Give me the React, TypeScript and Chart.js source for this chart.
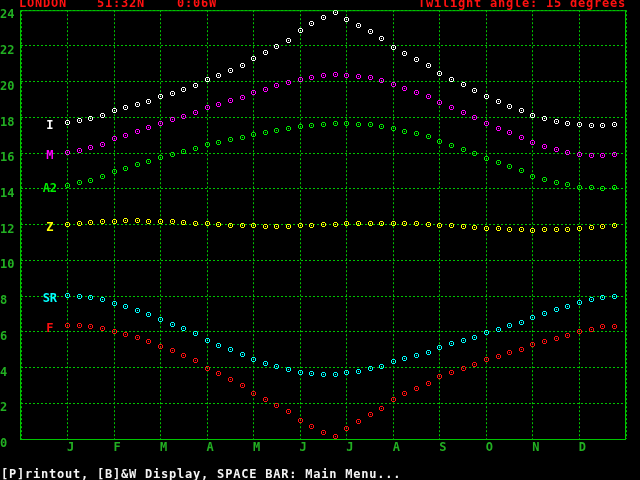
import React, { useEffect, useRef } from "react";
import { Chart, registerables } from "chart.js";

Chart.register(...registerables);

const MONTHS = ["J", "F", "M", "A", "M", "J", "J", "A", "S", "O", "N", "D"];

const SAMPLE_X = [
  1, 1.25, 1.5, 1.75, 2, 2.25, 2.5, 2.75, 3, 3.25, 3.5, 3.75,
  4, 4.25, 4.5, 4.75, 5, 5.25, 5.5, 5.75, 6, 6.25, 6.5, 6.75,
  7, 7.25, 7.5, 7.75, 8, 8.25, 8.5, 8.75, 9, 9.25, 9.5, 9.75,
  10, 10.25, 10.5, 10.75, 11, 11.25, 11.5, 11.75, 12, 12.25, 12.5, 12.75,
];

const ISHA = [
  17.72, 17.81, 17.94, 18.11, 18.39, 18.56, 18.72, 18.91, 19.17, 19.34, 19.56, 19.79,
  20.12, 20.35, 20.63, 20.91, 21.3, 21.63, 21.97, 22.3, 22.86, 23.26, 23.59, 23.87,
  23.48, 23.14, 22.81, 22.42, 21.91, 21.58, 21.24, 20.91, 20.46, 20.12, 19.84, 19.51,
  19.17, 18.89, 18.61, 18.39, 18.11, 17.94, 17.77, 17.66, 17.61, 17.55, 17.55, 17.61,
];
const MAGHRIB = [
  16.04, 16.15, 16.32, 16.49, 16.82, 16.99, 17.21, 17.44, 17.66, 17.89, 18.06, 18.28,
  18.56, 18.72, 18.95, 19.12, 19.4, 19.56, 19.79, 19.96, 20.12, 20.24, 20.35, 20.4,
  20.35, 20.29, 20.24, 20.07, 19.84, 19.62, 19.4, 19.17, 18.84, 18.56, 18.28, 18.0,
  17.66, 17.38, 17.16, 16.88, 16.6, 16.38, 16.21, 16.04, 15.93, 15.87, 15.87, 15.93,
];
const ASR2 = [
  14.19, 14.36, 14.47, 14.7, 14.98, 15.14, 15.37, 15.54, 15.76, 15.93, 16.1, 16.26,
  16.49, 16.6, 16.77, 16.88, 17.05, 17.16, 17.27, 17.38, 17.49, 17.55, 17.61, 17.66,
  17.66, 17.61, 17.61, 17.49, 17.38, 17.21, 17.1, 16.93, 16.65, 16.43, 16.21, 15.98,
  15.7, 15.48, 15.26, 15.03, 14.7, 14.53, 14.36, 14.25, 14.08, 14.08, 14.03, 14.08,
];
const ZUHR = [
  12.01, 12.07, 12.12, 12.18, 12.18, 12.24, 12.24, 12.18, 12.18, 12.18, 12.12, 12.07,
  12.07, 12.01, 11.96, 11.96, 11.96, 11.9, 11.9, 11.9, 11.96, 11.96, 12.01, 12.01,
  12.07, 12.07, 12.07, 12.07, 12.07, 12.07, 12.07, 12.01, 11.96, 11.96, 11.9, 11.85,
  11.79, 11.79, 11.73, 11.73, 11.68, 11.73, 11.73, 11.73, 11.79, 11.85, 11.9, 11.96,
];
const SUNRISE = [
  8.04, 7.98, 7.93, 7.82, 7.59, 7.42, 7.2, 6.98, 6.7, 6.42, 6.2, 5.91,
  5.52, 5.24, 5.02, 4.74, 4.46, 4.23, 4.07, 3.9, 3.73, 3.68, 3.62, 3.62,
  3.73, 3.79, 3.97, 4.07, 4.35, 4.53, 4.7, 4.85, 5.13, 5.35, 5.52, 5.69,
  5.97, 6.14, 6.36, 6.53, 6.81, 7.04, 7.26, 7.43, 7.66, 7.83, 7.94, 7.99,
];
const FAJR = [
  6.36, 6.36, 6.3, 6.19, 6.03, 5.86, 5.69, 5.47, 5.19, 4.96, 4.68, 4.4,
  3.96, 3.68, 3.34, 3.0, 2.56, 2.22, 1.89, 1.55, 1.05, 0.71, 0.37, 0.15,
  0.6, 0.99, 1.38, 1.72, 2.22, 2.56, 2.84, 3.13, 3.51, 3.73, 3.96, 4.18,
  4.46, 4.63, 4.85, 5.02, 5.3, 5.47, 5.63, 5.8, 6.03, 6.15, 6.27, 6.32,
];

const SERIES_NAMES = ["I", "M", "A2", "Z", "SR", "F"];
const SERIES_VALUES = [ISHA, MAGHRIB, ASR2, ZUHR, SUNRISE, FAJR];
const SERIES_COLORS = ["#ffffff", "#ff00ff", "#00ee00", "#ffff00", "#00ffff", "#ff1010"];

const FONT = '"DejaVu Sans Mono", monospace';
const GRID = "#00c400";
const LABEL_GREEN = "#22b022";

// 5x5 pixel ring with a centre dot
const MARKER_PATTERN = [".###.", "#...#", "#.#.#", "#...#", ".###."];

function makeMarker(color: string) {
  const c = document.createElement("canvas");
  c.width = 5;
  c.height = 5;
  const g = c.getContext("2d")!;
  g.fillStyle = color;
  MARKER_PATTERN.forEach((row, r) => {
    for (let col = 0; col < row.length; col++) {
      if (row[col] === "#") g.fillRect(col, r, 1, 1);
    }
  });
  return c;
}

const crispPlugin = {
  id: "crisp",
  beforeDraw(chart: any) {
    chart.ctx.imageSmoothingEnabled = false;
  },
};

const framePlugin = {
  id: "frame",
  beforeDatasetsDraw(chart: any) {
    const { ctx, chartArea } = chart;
    ctx.save();
    ctx.strokeStyle = GRID;
    ctx.lineWidth = 1;
    ctx.setLineDash([]);
    ctx.strokeRect(
      chartArea.left - 0.5,
      chartArea.top + 0.5,
      chartArea.right - chartArea.left,
      chartArea.bottom - chartArea.top
    );
    ctx.restore();
  },
};

const seriesLabelPlugin = {
  id: "seriesLabels",
  afterDatasetsDraw(chart: any) {
    const { ctx } = chart;
    const xs = chart.scales.x;
    const ys = chart.scales.y;
    ctx.save();
    ctx.font = `bold 12px ${FONT}`;
    ctx.textAlign = "center";
    ctx.textBaseline = "middle";
    chart.data.datasets.forEach((ds: any) => {
      ctx.fillStyle = ds.borderColor;
      ctx.fillText(ds.label, xs.getPixelForValue(0.62), ys.getPixelForValue(ds.data[0].y) + 3.5);
    });
    ctx.restore();
  },
};

export default function App() {
  const ref = useRef<HTMLCanvasElement | null>(null);

  useEffect(() => {
    if (!ref.current) return;
    const datasets = SERIES_NAMES.map((name, k) => ({
      label: name,
      data: SERIES_VALUES[k].map((v, i) => ({ x: SAMPLE_X[i], y: v })),
      borderColor: SERIES_COLORS[k],
      backgroundColor: SERIES_COLORS[k],
      showLine: false,
      pointStyle: makeMarker(SERIES_COLORS[k]),
      pointRadius: 3,
    }));
    const chart = new Chart(ref.current, {
      type: "scatter",
      data: { datasets },
      options: {
        animation: false,
        responsive: false,
        events: [],
        layout: { padding: { left: 0, right: 14, top: 10, bottom: 0 } },
        plugins: { legend: { display: false }, tooltip: { enabled: false }, title: { display: false } },
        scales: {
          x: {
            type: "linear",
            min: 0,
            max: 13,
            afterFit: (s: any) => {
              s.height = 41;
            },
            border: { display: false, dash: [2, 2] },
            grid: { color: GRID, lineWidth: 1, drawTicks: false },
            ticks: {
              stepSize: 1,
              autoSkip: false,
              maxRotation: 0,
              padding: 2,
              labelOffset: 3,
              color: LABEL_GREEN,
              font: { family: FONT, size: 12, weight: "bold" },
              callback: (v: any) => MONTHS[Number(v) - 1] ?? "",
            },
          },
          y: {
            type: "linear",
            min: 0,
            max: 24,
            afterFit: (s: any) => {
              s.width = 21;
            },
            border: { display: false, dash: [2, 2] },
            grid: { color: GRID, lineWidth: 1, drawTicks: false },
            ticks: {
              stepSize: 2,
              crossAlign: "far",
              labelOffset: 5,
              color: LABEL_GREEN,
              font: { family: FONT, size: 12, weight: "bold" },
            },
          },
        },
      },
      plugins: [crispPlugin, framePlugin, seriesLabelPlugin],
    } as any);
    return () => chart.destroy();
  }, []);

  const textBase: React.CSSProperties = {
    position: "absolute",
    fontFamily: FONT,
    fontWeight: "bold",
    fontSize: 12,
    lineHeight: "12px",
    letterSpacing: "0.78px",
    whiteSpace: "pre",
  };

  return (
    <div style={{ position: "absolute", left: 0, top: 0, width: 640, height: 480, background: "#000", overflow: "hidden" }}>
      <canvas ref={ref} width={640} height={480} style={{ position: "absolute", left: 0, top: 0 }} />
      <div style={{ ...textBase, left: 19, top: -3, color: "#ff1010" }}>LONDON</div>
      <div style={{ ...textBase, left: 97, top: -3, color: "#ff1010" }}>51:32N</div>
      <div style={{ ...textBase, left: 177, top: -3, color: "#ff1010" }}>0:06W</div>
      <div style={{ ...textBase, left: 418, top: -3, color: "#ff1010" }}>Twilight angle: 15 degrees</div>
      <div style={{ ...textBase, left: 1, top: 468, color: "#f4f4f4" }}>[P]rintout, [B]&amp;W Display, SPACE BAR: Main Menu...</div>
    </div>
  );
}
